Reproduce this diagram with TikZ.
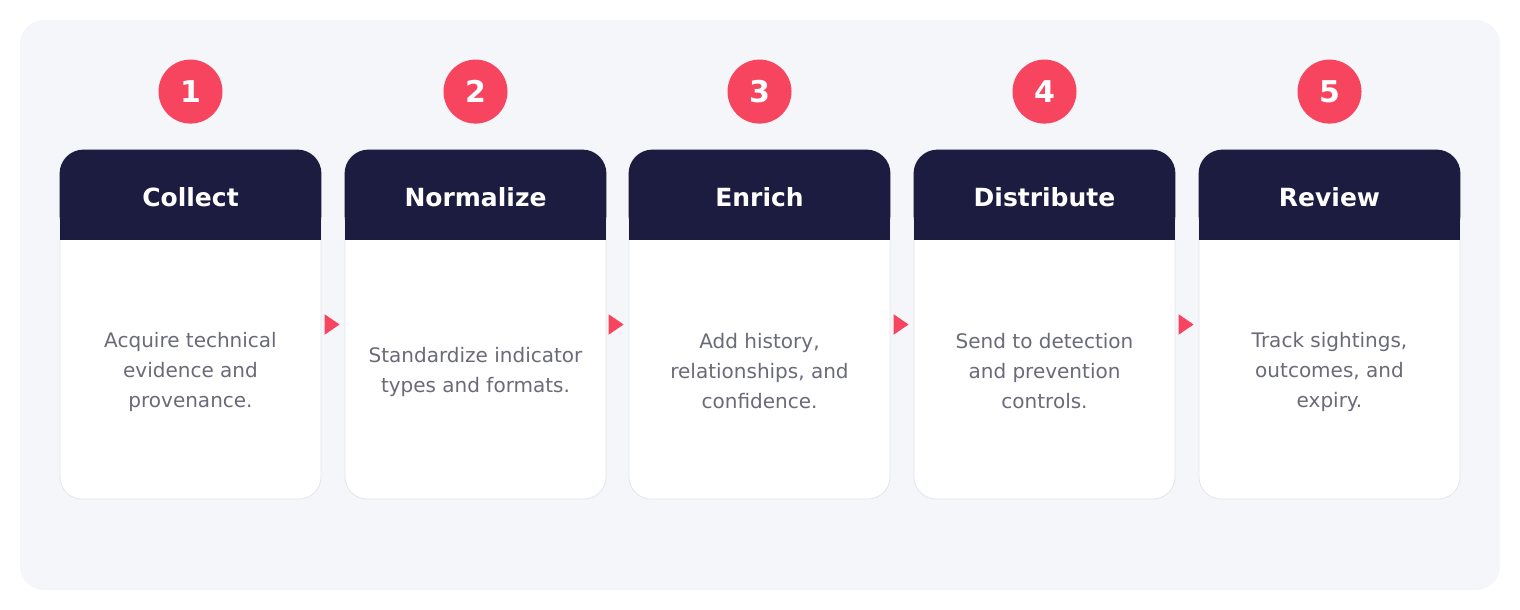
\documentclass[tikz,border=0pt]{standalone}
\usepackage{fontspec}
\setmainfont{DejaVu Sans}
\usepackage{tikz}
\usetikzlibrary{arrows.meta, calc}
\definecolor{flowPanel}{HTML}{F4F6FA}
\definecolor{flowNavy}{HTML}{1B1C3F}
\definecolor{flowRed}{HTML}{F7445F}
\definecolor{flowText}{HTML}{6A6B78}
\definecolor{flowEdge}{HTML}{E3E5EA}

\begin{document}
\begin{tikzpicture}[x=0.5pt, y=-0.5pt,
	card/.style={draw=flowEdge, fill=white, rounded corners=11pt, inner sep=0pt, minimum width=130.5pt, minimum height=174.5pt},
	badge/.style={circle, fill=flowRed, text=white, minimum size=32pt, inner sep=0pt, font=\fontsize{15}{15}\selectfont\bfseries},
	title/.style={text=white, font=\fontsize{12.5}{12.5}\selectfont\bfseries},
	body/.style={text=flowText, align=center, font=\fontsize{10}{15}\selectfont},
	link/.style={flowRed, line width=1pt, -{Triangle[length=7.5pt, width=10pt]}, shorten <=2pt, shorten >=2.5pt}]

	\useasboundingbox (0,0) rectangle (1520,610);
	\fill[flowPanel, rounded corners=12pt] (20,20) rectangle (1500,590);

	% cards
	\node[card] (collect) at (190.5,324.5) {};
	\node[card] (normalize) at (475.5,324.5) {};
	\node[card] (enrich) at (759.5,324.5) {};
	\node[card] (distribute) at (1044.5,324.5) {};
	\node[card] (review) at (1329.5,324.5) {};

	% headers
	\foreach \c in {collect, normalize, enrich, distribute, review}{
		\fill[flowNavy, rounded corners=12pt] (\c.north west) rectangle ($(\c.north east)+(0,90)$);
		\fill[flowNavy] ($(\c.north west)+(0,40)$) rectangle ($(\c.north east)+(0,90)$);
	}

	\node[title] (collectTitle) at ($(collect.north)+(0,48)$) {Collect};
	\node[title] (normalizeTitle) at ($(normalize.north)+(0,48)$) {Normalize};
	\node[title] (enrichTitle) at ($(enrich.north)+(0,48)$) {Enrich};
	\node[title] (distributeTitle) at ($(distribute.north)+(0,48)$) {Distribute};
	\node[title] (reviewTitle) at ($(review.north)+(0,48)$) {Review};

	\node[badge] (collectNum) at ($(collect.north)+(0,-58)$) {1};
	\node[badge] (normalizeNum) at ($(normalize.north)+(0,-58)$) {2};
	\node[badge] (enrichNum) at ($(enrich.north)+(0,-58)$) {3};
	\node[badge] (distributeNum) at ($(distribute.north)+(0,-58)$) {4};
	\node[badge] (reviewNum) at ($(review.north)+(0,-58)$) {5};

	\node[body] (collectText) at ($(collect.center)+(0,47)$) {Acquire technical\\evidence and\\provenance.};
	\node[body] (normalizeText) at ($(normalize.center)+(0,47)$) {Standardize indicator\\types and formats.};
	\node[body] (enrichText) at ($(enrich.center)+(0,47)$) {Add history,\\relationships, and\\confidence.};
	\node[body] (distributeText) at ($(distribute.center)+(0,47)$) {Send to detection\\and prevention\\controls.};
	\node[body] (reviewText) at ($(review.center)+(0,47)$) {Track sightings,\\outcomes, and\\expiry.};

	% links
	\draw[link] (collect.east) -- (normalize.west);
	\draw[link] (normalize.east) -- (enrich.west);
	\draw[link] (enrich.east) -- (distribute.west);
	\draw[link] (distribute.east) -- (review.west);

\end{tikzpicture}
\end{document}
